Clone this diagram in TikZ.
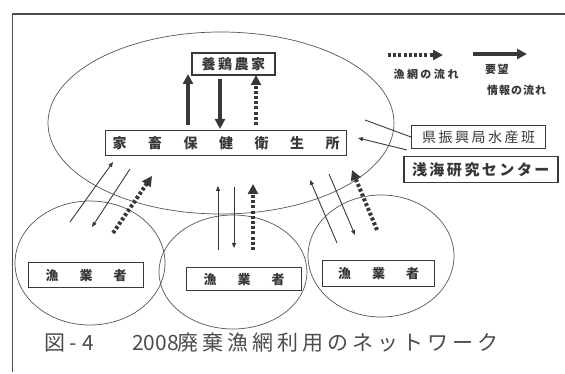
\documentclass[tikz,border=0pt]{standalone}
\usepackage{fontspec}
\newfontfamily\jp{Noto Sans CJK JP}
\usetikzlibrary{arrows.meta}
\definecolor{ink}{HTML}{383838}
\tikzset{
  lbl/.style={font=\jp\fontsize{13}{14}\selectfont\bfseries, text=ink, inner sep=0pt},
  boxed/.style={draw=ink, line width=1.2pt, inner sep=0pt, anchor=north west},
  ell/.style={draw=ink!85, line width=0.7pt},
  thinarr/.style={draw=ink, line width=0.9pt, -{Triangle[length=5pt,width=4pt]}},
  thickarr/.style={draw=ink, line width=4pt, -{Triangle[length=10pt,width=10pt]}},
  dotarr/.style={draw=ink, line width=4pt, dash pattern=on 3pt off 2.2pt, -{Triangle[length=10pt,width=10pt]}},
}
\begin{document}
\begin{tikzpicture}[x=1pt,y=-1pt]
\useasboundingbox (0,0) rectangle (565,374);
% frame
\draw[ink!90, line width=1.1pt] (12.5,372) -- (12.5,14) -- (565,14);
% ellipses
\draw[ell] (221,123) ellipse [x radius=173, y radius=91];
\draw[ell] (90,263) ellipse [x radius=75, y radius=62];
\draw[ell] (233,272) ellipse [x radius=74, y radius=57];
\draw[ell] (381,256) ellipse [x radius=73, y radius=61];
% boxes
\node[boxed, minimum width=83pt, minimum height=22pt, line width=1.6pt] (farm) at (191,52) {};
\node[lbl, font=\jp\fontsize{14}{15}\selectfont\bfseries] at (farm.center) {養\hskip2.5pt 鶏\hskip2.5pt 農\hskip2.5pt 家};
\node[boxed, minimum width=241pt, minimum height=25pt] (hoken) at (105,130) {};
\node[lbl, font=\jp\fontsize{14}{15}\selectfont\bfseries] at (hoken.center) {家\hskip 21.5pt畜\hskip 21.5pt保\hskip 21.5pt健\hskip 21.5pt衛\hskip 21.5pt生\hskip 21.5pt所};
\node[boxed, minimum width=134pt, minimum height=23pt] (ken) at (411,125) {};
\node[lbl, font=\jp\fontsize{14}{15}\selectfont] at (ken.center) {県\hskip2.5pt 振\hskip2.5pt 興\hskip2.5pt 局\hskip2.5pt 水\hskip2.5pt 産\hskip2.5pt 班};
\node[boxed, minimum width=154pt, minimum height=26pt, line width=1.5pt] (senkai) at (403,156) {};
\node[lbl, font=\jp\fontsize{15}{16}\selectfont\bfseries] at (senkai.center) {浅\hskip2.5pt 海\hskip2.5pt 研\hskip2.5pt 究\hskip2.5pt セ\hskip2.5pt ン\hskip2.5pt タ\hskip2.5pt ー};
\node[boxed, minimum width=115pt, minimum height=25pt] (f1) at (28,262) {};
\node[lbl] at (f1.center) {漁\hskip 21pt業\hskip 21pt者};
\node[boxed, minimum width=115pt, minimum height=23pt] (f2) at (186,267) {};
\node[lbl] at (f2.center) {漁\hskip 21pt業\hskip 21pt者};
\node[boxed, minimum width=112pt, minimum height=26pt] (f3) at (322,260) {};
\node[lbl] at (f3.center) {漁\hskip 21pt業\hskip 21pt者};
% legend
\coordinate (ld1) at (388,55); \coordinate (ld2) at (443,55);
\draw[dotarr, line width=3.5pt] (ld1) -- (ld2);
\coordinate (ls1) at (473,54); \coordinate (ls2) at (527,54);
\draw[thickarr, line width=3.5pt] (ls1) -- (ls2);
\node[lbl, font=\jp\fontsize{11}{12}\selectfont\bfseries] (lt1) at (426,74) {漁\hskip2.5pt 網\hskip2.5pt の\hskip2.5pt 流\hskip2.5pt れ};
\node[lbl, font=\jp\fontsize{11}{12}\selectfont\bfseries, anchor=west] (lt2) at (485,69) {要\hskip1.5pt 望};
\node[lbl, font=\jp\fontsize{11}{12}\selectfont\bfseries, anchor=west] (lt3) at (487,90) {情\hskip1pt 報\hskip1pt の\hskip1pt 流\hskip1pt れ};
% farm <-> hoken
\draw[thickarr] (188,125) -- (188,74);
\draw[thickarr] (220,79) -- (220,129);
\draw[dotarr] (256,125) -- (256,75);
% ken / senkai lines
\coordinate (k1) at (365,120);
\draw[ink, line width=0.9pt] (ken.west |- 0,137) -- (k1);
\coordinate (k2) at (358,138);
\draw[thinarr] (407,150) -- (k2);
% left group
\draw[thinarr] (70,222) -- (113,162);
\draw[thinarr] (130,169) -- (92,227);
\draw[dotarr] (113,233) -- (152,176);
% middle group
\draw[thinarr] (218,250) -- (218,186);
\draw[thinarr] (234,187) -- (234,248);
\draw[dotarr] (253,250) -- (253,184);
% right group
\draw[thinarr] (337,243) -- (310,180);
\draw[thinarr] (329,174) -- (355,235);
\draw[dotarr] (377,230) -- (352,170);
% caption
\node[font=\jp\fontsize{21}{22}\selectfont, text=ink!90, anchor=west, inner sep=0pt] (cap1) at (44,343) {図\hskip4pt -\hskip6pt 4};
\node[font=\jp\fontsize{21}{22}\selectfont, text=ink!90, anchor=west, inner sep=0pt] (cap2) at (132,343) {2008};
\node[font=\jp\fontsize{21}{22}\selectfont, text=ink!90, anchor=west, inner sep=0pt] (cap3) at (177,343) {廃\hskip4pt 棄\hskip4pt 漁\hskip4pt 網\hskip4pt 利\hskip4pt 用\hskip4pt の\hskip4pt ネ\hskip4pt ッ\hskip4pt ト\hskip4pt ワ\hskip4pt ー\hskip4pt ク};
\end{tikzpicture}
\end{document}
